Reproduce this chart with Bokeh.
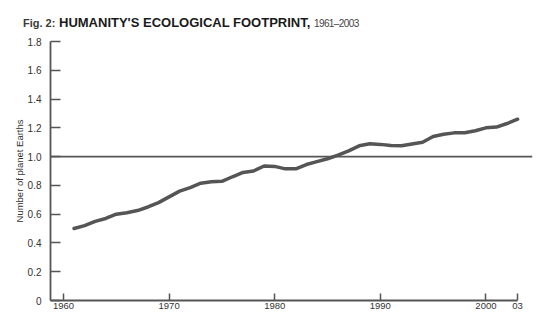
from bokeh.plotting import figure
from bokeh.models import Span, FixedTicker, NumeralTickFormatter, Range1d, Div
from bokeh.layouts import column
from bokeh.embed import file_html
from bokeh.resources import INLINE

years = list(range(1961, 2004))
earths = [0.50, 0.52, 0.55, 0.57, 0.60, 0.61, 0.625, 0.65, 0.68, 0.72,
          0.76, 0.785, 0.815, 0.825, 0.828, 0.86, 0.89, 0.90, 0.935, 0.932,
          0.915, 0.915, 0.945, 0.965, 0.985, 1.01, 1.04, 1.075, 1.089, 1.085,
          1.078, 1.076, 1.088, 1.10, 1.14, 1.155, 1.165, 1.166, 1.18, 1.20,
          1.205, 1.23, 1.26]
x_ticks = [1960, 1970, 1980, 1990, 2000, 2003]
x_tick_labels = ["1960", "1970", "1980", "1990", "2000", "03"]
y_ticks = [0, 0.2, 0.4, 0.6, 0.8, 1.0, 1.2, 1.4, 1.6, 1.8]
threshold = 1.0

title_fig = "Fig. 2:"
title_main = "HUMANITY'S ECOLOGICAL FOOTPRINT,"
title_years = "1961\u20132003"

FONT = "Liberation Sans"
INK = "#555555"
TXT = "#333333"

title = Div(
    text=(f"<span style='display:inline-block;width:8px'></span>"
          f"<span style='font-weight:bold;font-size:11px;color:#3a3a3a'>{title_fig}</span> "
          f"<span style='font-weight:bold;color:#1a1a1a'>{title_main}</span> "
          f"<span style='font-size:10px;letter-spacing:-0.6px;color:#444'>{title_years}</span>"),
    width=524, height=21, margin=(15, 0, 0, 15),
    styles={"font-family": FONT, "font-size": "13px", "line-height": "15px",
            "color": TXT, "white-space": "nowrap"})

p = figure(width=539, height=277, output_backend="svg", toolbar_location=None,
           x_range=Range1d(1958.77, 2004.41), y_range=Range1d(0, 1.8),
           min_border_left=50, min_border_right=7, min_border_top=5,
           min_border_bottom=13, outline_line_color=None,
           background_fill_color="white", border_fill_color="white",
           margin=(0, 0, 0, 0))
p.grid.visible = False

p.line(years, earths, line_color=INK, line_width=3.5, line_cap="round",
       line_join="round")
p.add_layout(Span(location=threshold, dimension="width", line_color=INK,
                  line_width=1.6))

xa = p.xaxis[0]
xa.ticker = FixedTicker(ticks=x_ticks)
xa.major_label_overrides = {t: l for t, l in zip(x_ticks, x_tick_labels)}
xa.bounds = (1958.77, 2003)
xa.minor_tick_line_color = None
xa.major_tick_in = 7
xa.major_tick_out = 0
xa.major_label_standoff = 2
xa.axis_line_color = INK
xa.axis_line_width = 1.8
xa.major_tick_line_color = INK
xa.major_tick_line_width = 1.5
xa.major_label_text_font = FONT
xa.major_label_text_font_size = "9.5px"
xa.major_label_text_color = TXT

ya = p.yaxis[0]
ya.ticker = FixedTicker(ticks=y_ticks)
ya.formatter = NumeralTickFormatter(format="0.0")
ya.major_label_overrides = {0: "0"}
ya.minor_tick_line_color = None
ya.major_tick_in = 10
ya.major_tick_out = 0
ya.major_label_standoff = 9
ya.axis_line_color = INK
ya.axis_line_width = 1.8
ya.major_tick_line_color = INK
ya.major_tick_line_width = 1.5
ya.major_label_text_font = FONT
ya.major_label_text_font_size = "10px"
ya.major_label_text_color = TXT
ya.axis_label = "Number of planet Earths"
ya.axis_label_text_font = FONT
ya.axis_label_text_font_size = "9.5px"
ya.axis_label_text_font_style = "normal"
ya.axis_label_text_color = TXT
ya.axis_label_standoff = 0

layout = column(title, p, spacing=0, margin=(0, 0, 0, 0))

open("out.html", "w").write(file_html(layout, INLINE))
